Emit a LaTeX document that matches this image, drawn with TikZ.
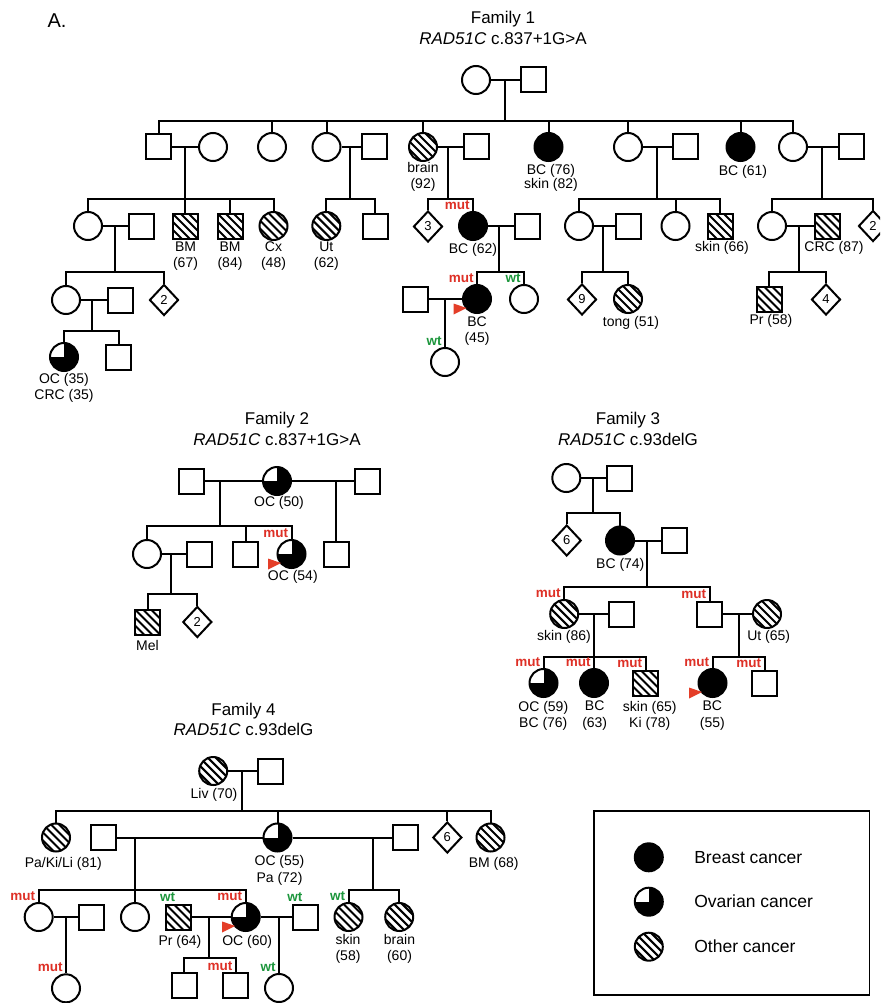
\documentclass[tikz,border=0pt]{standalone}
\usepackage{fontspec}
\setmainfont{Liberation Sans}
\usetikzlibrary{shapes.geometric}
\definecolor{mutred}{RGB}{222,48,38}
\definecolor{wtgreen}{RGB}{28,150,60}
\definecolor{arrowred}{RGB}{228,62,40}
\tikzset{
 person/.style={draw, line width=2pt, inner sep=0pt},
 fem/.style={person, circle, minimum size=28pt},
 mal/.style={person, rectangle, minimum size=25pt},
 unk/.style={person, diamond, minimum width=29pt, minimum height=31pt, font=\fontsize{13}{13}\selectfont},
 bc/.style={fill=black},
 oc/.style={fill=black, path picture={\fill[white] (path picture bounding box.center) rectangle (path picture bounding box.north west);}},
 oth/.style={path picture={\foreach \d in {-48,-40,...,48}{\draw[line width=2.1pt] ([shift={({\d-25},-25)}]path picture bounding box.center) -- ++(50,50);}}},
 lab/.style={font=\fontsize{14}{16.5}\selectfont, align=center, inner sep=0pt},
 ttl/.style={font=\fontsize{17}{20.5}\selectfont, align=center, inner sep=0pt},
 gtl/.style={font=\fontsize{13.5}{14}\selectfont\bfseries, inner sep=0pt, anchor=base east},
 mutl/.style={gtl, text=mutred},
 wtl/.style={gtl, text=wtgreen},
}
\newcommand{\mutlab}[1]{\node[mutl] (#1-gt) at ([xshift=-2.5pt,yshift=2pt]#1.north) {mut};}
\newcommand{\wtlab}[1]{\node[wtl] (#1-gt) at ([xshift=-2.5pt,yshift=2pt]#1.north) {wt};}
\newcommand{\probarrow}[1]{\fill[arrowred] ([shift={(-23.5,4.5)}]#1.center) -- ([shift={(-23.5,15.5)}]#1.center) -- ([shift={(-10.5,9)}]#1.center) -- cycle;}
\begin{document}
\begin{tikzpicture}[x=1pt,y=-1pt,line width=2pt]
\useasboundingbox (0,0) rectangle (880,1003);
\clip (0,0) rectangle (880,1003);
\fill[white] (0,0) rectangle (880,1003);

% ================= Family 1 =================
\node[font=\fontsize{20}{20}\selectfont, inner sep=0pt] (Alab) at (57,21) {A.};
\node[ttl] (t1) at (503,28) {Family 1\\\textit{RAD51C} c.837+1G>A};

\node[fem] (f1gm) at (476,80) {};
\node[mal] (f1gf) at (533.5,80) {};
\draw (f1gm.east) -- (f1gf.west);
\coordinate (f1m0) at (505,80); \coordinate (f1d0) at (505,121);
\draw (f1m0) -- (f1d0);

\node[mal] (f1a) at (158.7,147) {};
\node[fem] (f1aw) at (213,147) {};
\node[fem] (f1b) at (272,147) {};
\node[fem] (f1c) at (326.5,147) {};
\node[mal] (f1ch) at (374.5,147) {};
\node[fem,oth] (f1d) at (423,147) {};
\node[mal] (f1dh) at (476,147) {};
\node[fem,bc] (f1e) at (548.5,147) {};
\node[fem] (f1f) at (628,147) {};
\node[mal] (f1fh) at (685,147) {};
\node[fem,bc] (f1g) at (740.5,147) {};
\node[fem] (f1h) at (793,147) {};
\node[mal] (f1hh) at (851,147) {};
\foreach \c in {f1a,f1b,f1c,f1d,f1e,f1f,f1g,f1h} \draw (\c.north) |- (f1d0);
\node[lab] (lf1d) at (423,177) {brain\\(92)};
\node[lab] (lf1e) at (551,178.3) {BC (76)\\[-2.5pt]skin (82)};
\node[lab] (lf1g) at (743,172) {BC (61)};

% branch a
\draw (f1a.east) -- (f1aw.west);
\coordinate (f1m1) at (185,147); \coordinate (f1d1) at (185,199);
\draw (f1m1) -- (f1d1);
\node[fem] (f1i) at (88,226) {};
\node[mal] (f1ih) at (141,226) {};
\node[mal,oth] (f1j) at (185,226) {};
\node[mal,oth] (f1k) at (230,226) {};
\node[fem,oth] (f1l) at (273.5,226) {};
\foreach \c in {f1i,f1j,f1k,f1l} \draw (\c.north) |- (f1d1);
\node[lab] (lf1j) at (185.5,256) {BM\\(67)};
\node[lab] (lf1k) at (230,256) {BM\\(84)};
\node[lab] (lf1l) at (273.5,256) {Cx\\(48)};

\draw (f1i.east) -- (f1ih.west);
\coordinate (f1m2) at (115,226); \coordinate (f1d2) at (115,272);
\draw (f1m2) -- (f1d2);
\node[fem] (f1x) at (66,300) {};
\node[mal] (f1xh) at (120,300) {};
\node[unk] (f1y) at (164,300) {2};
\foreach \c in {f1x,f1y} \draw (\c.north) |- (f1d2);
\draw (f1x.east) -- (f1xh.west);
\coordinate (f1m3) at (92,300); \coordinate (f1d3) at (92,331);
\draw (f1m3) -- (f1d3);
\node[fem,oc] (f1z) at (64,357) {};
\node[mal] (f1z2) at (118.5,357) {};
\foreach \c in {f1z,f1z2} \draw (\c.north) |- (f1d3);
\node[lab] (lf1z) at (64,388) {OC (35)\\CRC (35)};

% branch c
\draw (f1c.east) -- (f1ch.west);
\coordinate (f1m4) at (350,147); \coordinate (f1d4) at (350,199);
\draw (f1m4) -- (f1d4);
\node[fem,oth] (f1cm) at (326.3,226) {};
\node[mal] (f1cn) at (375,226) {};
\foreach \c in {f1cm,f1cn} \draw (\c.north) |- (f1d4);
\node[lab] (lf1cm) at (326.3,256) {Ut\\(62)};

% branch d
\draw (f1d.east) -- (f1dh.west);
\coordinate (f1m5) at (448,147); \coordinate (f1d5) at (448,199);
\draw (f1m5) -- (f1d5);
\node[unk] (f1o) at (428,226.5) {3};
\node[fem,bc] (f1p) at (473,226) {};
\node[mal] (f1ph) at (527,226) {};
\foreach \c in {f1o,f1p} \draw (\c.north) |- (f1d5);
\mutlab{f1p}
\node[lab] (lf1p) at (473,250) {BC (62)};
\draw (f1p.east) -- (f1ph.west);
\coordinate (f1m6) at (499,226); \coordinate (f1d6) at (499,272);
\draw (f1m6) -- (f1d6);
\node[fem,bc] (f1q) at (477,299) {};
\node[fem] (f1r) at (524,299) {};
\foreach \c in {f1q,f1r} \draw (\c.north) |- (f1d6);
\mutlab{f1q}
\wtlab{f1r}
\node[mal] (f1qh) at (415,299) {};
\draw (f1qh.east) -- (f1q.west);
\coordinate (f1m7) at (445,299);
\node[fem] (f1s) at (445,362) {};
\draw (f1m7) -- (f1s.north);
\wtlab{f1s}
\node[lab] (lf1q) at (477,331) {BC\\(45)};
\probarrow{f1q}

% branch f
\draw (f1f.east) -- (f1fh.west);
\coordinate (f1m8) at (657,147); \coordinate (f1d8) at (657,199);
\draw (f1m8) -- (f1d8);
\node[fem] (f1t) at (579,226) {};
\node[mal] (f1th) at (628,226) {};
\node[fem] (f1u) at (675.5,226) {};
\node[mal,oth] (f1v) at (720,226) {};
\foreach \c in {f1t,f1u,f1v} \draw (\c.north) |- (f1d8);
\node[lab] (lf1v) at (722,248) {skin (66)};
\draw (f1t.east) -- (f1th.west);
\coordinate (f1m9) at (603,226); \coordinate (f1d9) at (603,272);
\draw (f1m9) -- (f1d9);
\node[unk] (f1t1) at (582,299.5) {9};
\node[fem,oth] (f1t2) at (628,299) {};
\foreach \c in {f1t1,f1t2} \draw (\c.north) |- (f1d9);
\node[lab] (lf1t2) at (631,322.7) {tong (51)};

% branch h
\draw (f1h.east) -- (f1hh.west);
\coordinate (f1m10) at (822,147); \coordinate (f1d10) at (822,199);
\draw (f1m10) -- (f1d10);
\node[fem] (f1w) at (772,226) {};
\node[mal,oth] (f1wh) at (827.5,226) {};
\node[unk] (f1w2) at (873,226) {2};
\foreach \c in {f1w,f1w2} \draw (\c.north) |- (f1d10);
\node[lab] (lf1wh) at (834,248) {CRC (87)};
\draw (f1w.east) -- (f1wh.west);
\coordinate (f1m11) at (799,226); \coordinate (f1d11) at (799,272);
\draw (f1m11) -- (f1d11);
\node[mal,oth] (f1w3) at (769,299.5) {};
\node[unk] (f1w4) at (826,299.5) {4};
\foreach \c in {f1w3,f1w4} \draw (\c.north) |- (f1d11);
\node[lab] (lf1w3) at (771,321.3) {Pr (58)};

% ================= Family 2 =================
\node[ttl] (t2) at (277,428.8) {Family 2\\\textit{RAD51C} c.837+1G>A};
\node[mal] (f2a) at (191.5,481) {};
\node[fem,oc] (f2b) at (277,481) {};
\node[mal] (f2c) at (367.5,481) {};
\draw (f2a.east) -- (f2b.west);
\draw (f2b.east) -- (f2c.west);
\node[lab] (lf2b) at (279,503.3) {OC (50)};
\coordinate (f2m1) at (220,481); \coordinate (f2d1) at (220,526);
\draw (f2m1) -- (f2d1);
\node[fem] (f2d) at (147,554) {};
\node[mal] (f2dh) at (199.5,554) {};
\node[mal] (f2e) at (245.5,554) {};
\node[fem,oc] (f2f) at (291.5,554) {};
\foreach \c in {f2d,f2e,f2f} \draw (\c.north) |- (f2d1);
\mutlab{f2f}
\probarrow{f2f}
\node[lab] (lf2f) at (292.8,576.7) {OC (54)};
\coordinate (f2m2) at (336,481);
\node[mal] (f2g) at (336,554) {};
\draw (f2m2) -- (f2g.north);
\draw (f2d.east) -- (f2dh.west);
\coordinate (f2m3) at (171,554); \coordinate (f2d3) at (171,594);
\draw (f2m3) -- (f2d3);
\node[mal,oth] (f2h) at (147.5,622) {};
\node[unk] (f2i) at (197.3,622) {2};
\foreach \c in {f2h,f2i} \draw (\c.north) |- (f2d3);
\node[lab] (lf2h) at (147.5,645) {Mel};

% ================= Family 3 =================
\node[ttl] (t3) at (628,428.8) {Family 3\\\textit{RAD51C} c.93delG};
\node[fem] (f3a) at (566.3,478) {};
\node[mal] (f3b) at (619.7,478) {};
\draw (f3a.east) -- (f3b.west);
\coordinate (f3m1) at (593,478); \coordinate (f3d1) at (593,513);
\draw (f3m1) -- (f3d1);
\node[unk] (f3c) at (566.7,540.5) {6};
\node[fem,bc] (f3d) at (620,540.5) {};
\node[mal] (f3dh) at (674,540.5) {};
\foreach \c in {f3c,f3d} \draw (\c.north) |- (f3d1);
\node[lab] (lf3d) at (620.3,565) {BC (74)};
\draw (f3d.east) -- (f3dh.west);
\coordinate (f3m2) at (647,540.5); \coordinate (f3d2) at (647,587);
\draw (f3m2) -- (f3d2);
\node[fem,oth] (f3e) at (564.2,614) {};
\node[mal] (f3eh) at (621.5,614) {};
\node[mal] (f3g) at (709.7,614) {};
\node[fem,oth] (f3gw) at (767,614) {};
\foreach \c in {f3e,f3g} \draw (\c.north) |- (f3d2);
\mutlab{f3e} \mutlab{f3g}
\node[lab] (lf3e) at (564,637.3) {skin (86)};
\node[lab] (lf3gw) at (768.7,637.3) {Ut (65)};
\draw (f3e.east) -- (f3eh.west);
\coordinate (f3m3) at (594,614); \coordinate (f3d3) at (594,657);
\draw (f3m3) -- (f3d3);
\node[fem,oc] (f3i) at (543.5,683) {};
\node[fem,bc] (f3j) at (594,683) {};
\node[mal,oth] (f3k) at (645.5,683) {};
\foreach \c in {f3i,f3j,f3k} \draw (\c.north) |- (f3d3);
\mutlab{f3i} \mutlab{f3j} \mutlab{f3k}
\node[lab] (lf3i) at (543.3,715.7) {OC (59)\\BC (76)};
\node[lab] (lf3j) at (594.7,715.7) {BC\\(63)};
\node[lab] (lf3k) at (649.8,715.7) {skin (65)\\Ki (78)};
\draw (f3g.east) -- (f3gw.west);
\coordinate (f3m4) at (739,614); \coordinate (f3d4) at (739,657);
\draw (f3m4) -- (f3d4);
\node[fem,bc] (f3l) at (712.5,683) {};
\node[mal] (f3m) at (764.5,683) {};
\foreach \c in {f3l,f3m} \draw (\c.north) |- (f3d4);
\mutlab{f3l} \mutlab{f3m}
\probarrow{f3l}
\node[lab] (lf3l) at (712.3,715.7) {BC\\(55)};

% ================= Family 4 =================
\node[ttl] (t4) at (243.5,719.3) {Family 4\\\textit{RAD51C} c.93delG};
\node[fem,oth] (f4a) at (213.2,771) {};
\node[mal] (f4b) at (270.3,771) {};
\draw (f4a.east) -- (f4b.west);
\node[lab] (lf4a) at (214,795) {Liv (70)};
\coordinate (f4m1) at (242,771); \coordinate (f4d1) at (242,811);
\draw (f4m1) -- (f4d1);
\node[fem,oth] (f4c) at (56,837.5) {};
\node[mal] (f4dh1) at (103.7,837.5) {};
\node[fem,oc] (f4d) at (277.5,837.5) {};
\node[mal] (f4dh2) at (405.5,837.5) {};
\node[unk] (f4e) at (447.3,837.5) {6};
\node[fem,oth] (f4f) at (490.5,837.5) {};
\foreach \c in {f4c,f4d,f4e,f4f} \draw (\c.north) |- (f4d1);
\node[lab] (lf4c) at (63.3,864) {Pa/Ki/Li (81)};
\node[lab] (lf4d) at (279.5,870.5) {OC (55)\\Pa (72)};
\node[lab] (lf4f) at (493.7,864.3) {BM (68)};
\draw (f4dh1.east) -- (f4d.west);
\coordinate (f4m2) at (135,837.5); \coordinate (f4d2) at (135,890);
\draw (f4m2) -- (f4d2);
\node[fem] (f4g) at (38.7,917) {};
\node[mal] (f4gh) at (91.7,917) {};
\node[fem] (f4i) at (135,917) {};
\node[mal,oth] (f4jh) at (178.5,917) {};
\node[fem,oc] (f4j) at (245.7,917) {};
\node[mal] (f4jh2) at (305.8,917) {};
\foreach \c in {f4g,f4i,f4j} \draw (\c.north) |- (f4d2);
\mutlab{f4g} \mutlab{f4j} \wtlab{f4jh} \wtlab{f4jh2}
\probarrow{f4j}
\node[lab] (lf4jh) at (180,941.7) {Pr (64)};
\node[lab] (lf4j) at (247.2,941.7) {OC (60)};
\draw (f4d.east) -- (f4dh2.west);
\coordinate (f4m3) at (373,837.5); \coordinate (f4d3) at (373,890);
\draw (f4m3) -- (f4d3);
\node[fem,oth] (f4k) at (348.5,917) {};
\node[fem,oth] (f4l) at (399.2,917) {};
\foreach \c in {f4k,f4l} \draw (\c.north) |- (f4d3);
\wtlab{f4k}
\node[lab] (lf4k) at (348,949) {skin\\(58)};
\node[lab] (lf4l) at (399.5,949) {brain\\(60)};
\draw (f4g.east) -- (f4gh.west);
\coordinate (f4m4) at (66,917);
\node[fem] (f4n) at (66,988.3) {};
\draw (f4m4) -- (f4n.north);
\mutlab{f4n}
\draw (f4jh.east) -- (f4j.west);
\coordinate (f4m5) at (209,917); \coordinate (f4d5) at (209,958);
\draw (f4m5) -- (f4d5);
\node[mal] (f4o) at (184.2,985.7) {};
\node[mal] (f4p) at (235.8,985.7) {};
\foreach \c in {f4o,f4p} \draw (\c.north) |- (f4d5);
\mutlab{f4p}
\draw (f4j.east) -- (f4jh2.west);
\coordinate (f4m6) at (279,917);
\node[fem] (f4q) at (279,988) {};
\draw (f4m6) -- (f4q.north);
\wtlab{f4q}

% ================= Legend =================
\node[draw, line width=1.5pt, minimum width=275.3pt, minimum height=184pt, inner sep=0pt] (legend) at (731.7,903) {};
\node[fem,bc] (lg1) at (648.8,857.3) {};
\node[fem,oc] (lg2) at (648.8,901.7) {};
\node[fem,oth] (lg3) at (648.8,946.7) {};
\node[font=\fontsize{17.5}{20}\selectfont, anchor=west, inner sep=0pt] (lt1) at (693.3,857.3) {Breast cancer};
\node[font=\fontsize{17.5}{20}\selectfont, anchor=west, inner sep=0pt] (lt2) at (693.3,901.7) {Ovarian cancer};
\node[font=\fontsize{17.5}{20}\selectfont, anchor=west, inner sep=0pt] (lt3) at (693.3,946.7) {Other cancer};
\end{tikzpicture}
\end{document}
